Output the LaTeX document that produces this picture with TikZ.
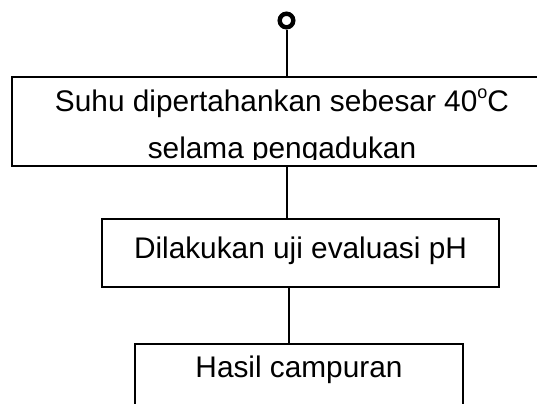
\documentclass[tikz,border=0pt]{standalone}
\usepackage{fontspec}
\setmainfont{Liberation Sans}
\usepackage{tikz}
\usetikzlibrary{calc}
\tikzset{>=latex}

\tikzset{
  kotak/.style={draw, line width=0.8pt, inner sep=0pt, font=\fontsize{14.9}{23.5}\selectfont},
  garis/.style={line width=1pt},
  tulisan/.style={inner sep=0pt, font=\fontsize{14.9}{23.5}\selectfont},
}

\begin{document}
\begin{tikzpicture}[x=0.5pt, y=-0.5pt]
                    \useasboundingbox (0,0) rectangle (537,403);
                    % titik awal (sambungan dari halaman sebelumnya)
                    \node[draw, circle, line width=2.2pt, minimum size=6.8pt, inner sep=0pt] (awal) at (286.5,20.5) {};
                    % kotak-kotak proses
                    \node[kotak, minimum width=270pt, minimum height=44.5pt] (suhu) at (282,121.5) {};
                    \begin{scope}
                      \clip (12,77) rectangle (560,159.5);
                      \node[tulisan, anchor=base] (suhuteks) at (282,111)
                        {\begin{tabular}[t]{@{}c@{}}Suhu dipertahankan sebesar 40\raisebox{0.42em}{\fontsize{9}{9}\selectfont o}C\\selama pengadukan\end{tabular}};
                    \end{scope}
                    \node[kotak, minimum width=198.5pt, minimum height=34pt, text height=8pt, text depth=3pt] (evaluasi) at (300.5,253) {Dilakukan uji evaluasi pH};
                    \node[kotak, minimum width=164pt, minimum height=34pt, text height=8pt, text depth=9pt] (hasil) at (299,378) {Hasil campuran};
                    % garis penghubung
                    \draw[garis] (awal.south) -- (awal.south |- suhu.north);
                    \draw[garis] (suhu.south -| awal) -- (evaluasi.north -| awal);
                    \draw[garis] ([xshift=1pt]evaluasi.south -| awal) -- ([xshift=1pt]hasil.north -| awal);
\end{tikzpicture}
\end{document}
